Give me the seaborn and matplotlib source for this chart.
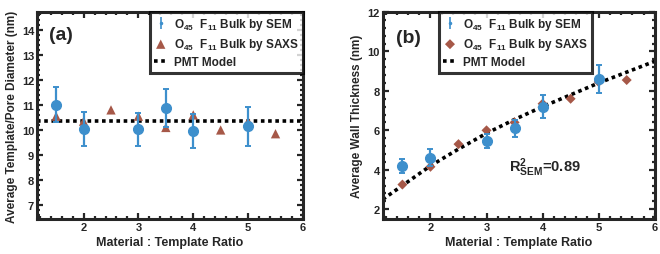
import numpy as np
import pandas as pd
import matplotlib
matplotlib.use("Agg")
import matplotlib.pyplot as plt
from matplotlib.ticker import MultipleLocator
import seaborn as sns

# panel (a): template / pore diameter
sem_x = [1.5, 2, 3, 3.5, 4, 5]
sem_diam = [11.0, 10.05, 10.02, 10.88, 9.97, 10.15]
sem_diam_err = [0.7, 0.68, 0.67, 0.77, 0.67, 0.78]
saxs_x = [1.5, 2, 2.5, 3, 3.5, 4, 4.5, 5, 5.5]
saxs_diam = [10.55, 10.35, 10.8, 10.55, 10.1, 10.6, 10.0, 10.35, 9.85]
pmt_diam = 10.35

# panel (b): wall thickness
sem_wall = [4.2, 4.6, 5.45, 6.1, 7.2, 8.6]
sem_wall_err = [0.35, 0.43, 0.35, 0.43, 0.6, 0.7]
saxs_wall = [3.25, 4.15, 5.3, 6.0, 6.4, 7.35, 7.6, 8.45, 8.55]
pmt_x = [1.15, 1.5, 2, 2.5, 3, 3.5, 4, 4.5, 5, 5.5, 6]
pmt_wall = [2.5, 3.2, 4.2, 5.05, 5.85, 6.55, 7.2, 7.8, 8.4, 8.95, 9.5]

blue = "#3d8fcc"
brown = "#a65848"

sns.set_style("ticks")
plt.rcParams["font.family"] = ["Liberation Sans", "DejaVu Sans"]
plt.rcParams["font.weight"] = "bold"
plt.rcParams["axes.labelweight"] = "bold"
plt.rcParams["mathtext.fontset"] = "custom"
plt.rcParams["mathtext.rm"] = "Liberation Sans:bold"
plt.rcParams["mathtext.bf"] = "Liberation Sans:bold"
plt.rcParams["mathtext.it"] = "Liberation Sans:bold"
plt.rcParams["mathtext.default"] = "bf"

fig = plt.figure(figsize=(6.6, 2.55), dpi=100)
ax1 = fig.add_axes([0.056, 0.137, 0.403, 0.812])
ax2 = fig.add_axes([0.580, 0.137, 0.412, 0.812])

sem_lab = r"$O_{45}\ \ F_{11}$ Bulk by SEM"
saxs_lab = r"$O_{45}\ \ F_{11}$ Bulk by SAXS"


def style_axes(ax, ymajor):
    for s in ax.spines.values():
        s.set_linewidth(2.2)
        s.set_visible(True)
    ax.xaxis.set_major_locator(MultipleLocator(1))
    ax.xaxis.set_minor_locator(MultipleLocator(0.2))
    ax.yaxis.set_major_locator(MultipleLocator(ymajor))
    ax.yaxis.set_minor_locator(MultipleLocator(ymajor / 5))
    ax.tick_params(which="both", direction="in", top=True, right=True,
                   labelsize=8, width=1.6)
    ax.tick_params(which="major", length=4.5, pad=2)
    ax.tick_params(which="minor", length=2.5)
    for t in ax.get_xticklabels() + ax.get_yticklabels():
        t.set_fontweight("bold")
    ax.set_xlabel("Material : Template Ratio", fontsize=9, fontweight="bold", labelpad=3)


def draw(ax, sem_y, sem_err, saxs_y, marker, msize, px, py, anchor):
    ax.errorbar(sem_x, sem_y, yerr=sem_err, fmt="o", color=blue, ms=7,
                elinewidth=1.6, capsize=2, capthick=1.4, zorder=3)
    sns.scatterplot(x=saxs_x, y=saxs_y, marker=marker, color=brown, s=msize,
                    edgecolor="none", ax=ax, zorder=2, label=saxs_lab)
    sns.lineplot(x=px, y=py, color="black", linestyle=(0, (1, 1)), linewidth=2.6,
                 ax=ax, zorder=1, label="PMT Model")
    h, l = ax.get_legend_handles_labels()
    eb_leg = ax.errorbar([], [], yerr=[], fmt=".", color=blue, ms=3,
                         elinewidth=1.2, capsize=1.5)
    leg = ax.legend([eb_leg] + h[-2:], [sem_lab] + l[-2:], loc="upper right",
                    bbox_to_anchor=anchor, borderaxespad=0,
                    fontsize=8.5, frameon=True, fancybox=False, borderpad=0.35,
                    labelspacing=0.35, handlelength=1.2, handletextpad=0.5)
    leg.get_frame().set_edgecolor("black")
    leg.get_frame().set_linewidth(2.2)
    for t in leg.get_texts():
        t.set_fontweight("bold")
    return leg


# (a)
draw(ax1, sem_diam, sem_diam_err, saxs_diam, "^", 45,
     [1.15, 6], [pmt_diam, pmt_diam], (1.0, 1.0))
ax1.set_xlim(1.15, 6)
ax1.set_ylim(6.45, 14.7)
style_axes(ax1, 1)
ax1.set_ylabel("Average Template/Pore Diameter (nm)", fontsize=8.5, labelpad=3)
ax1.text(0.045, 0.87, "(a)", transform=ax1.transAxes, fontsize=14, fontweight="bold")

# (b)
draw(ax2, sem_wall, sem_wall_err, saxs_wall, "D", 26, pmt_x, pmt_wall, (0.77, 1.0))
ax2.set_xlim(1.15, 6)
ax2.set_ylim(1.5, 12)
style_axes(ax2, 2)
ax2.set_ylabel("Average Wall Thickness (nm)", fontsize=8.5, labelpad=3)
ax2.text(0.05, 0.855, "(b)", transform=ax2.transAxes, fontsize=14, fontweight="bold")
ax2.text(3.4, 3.95, r"$R^2_{SEM}$=0.89", fontsize=10.5, fontweight="bold")

fig.savefig("out.png", dpi=100)
